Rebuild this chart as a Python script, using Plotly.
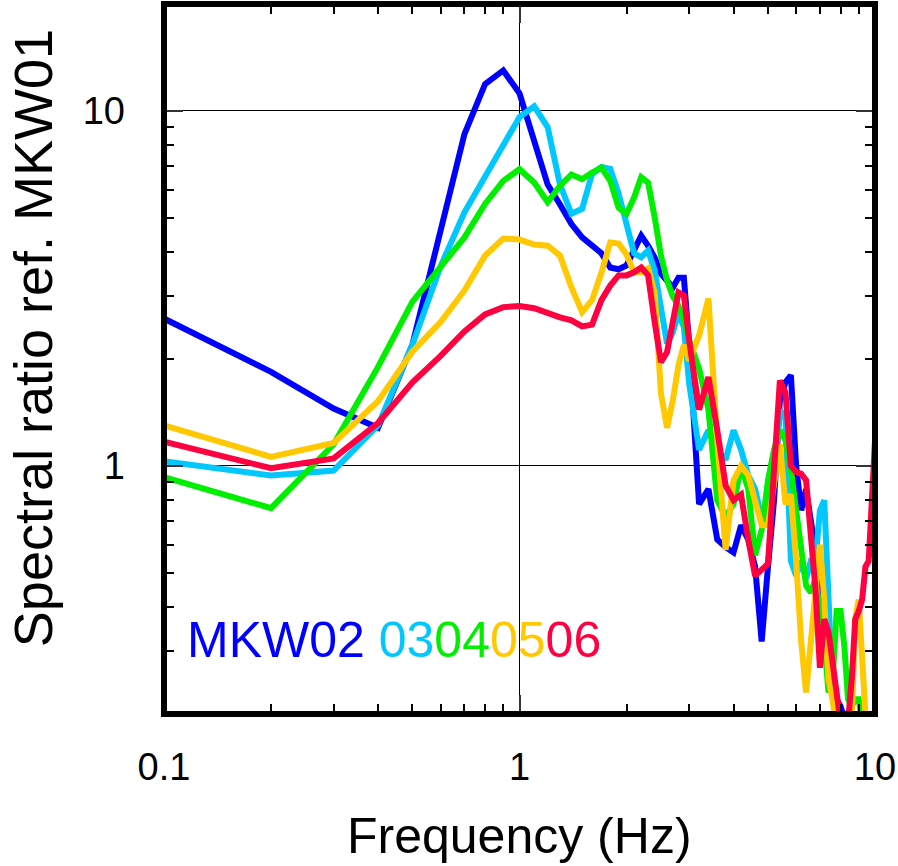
import plotly.graph_objects as go

freq = [0.1, 0.2, 0.3, 0.4, 0.5, 0.6, 0.7, 0.8, 0.9, 1.0,
        1.1, 1.2, 1.3, 1.4, 1.5, 1.6, 1.7, 1.8, 1.9, 2.0,
        2.1, 2.2, 2.3, 2.4, 2.5, 2.6, 2.7, 2.8, 2.9, 3.0,
        3.2, 3.4, 3.6, 3.8, 4.0, 4.2, 4.4, 4.6, 4.8, 5.0,
        5.2, 5.4, 5.6, 5.8, 6.0, 6.2, 6.4, 6.6, 6.8, 7.0,
        7.2, 7.4, 7.6, 7.8, 8.0, 8.2, 8.4, 8.6, 8.8, 9.0,
        9.2, 9.4, 9.6, 9.8, 10.0]

mkw02 = [2.6, 1.84, 1.45, 1.28, 2.2, 4.7, 8.6, 11.9, 13.0, 11.2,
         8.1, 6.2, 5.45, 4.8, 4.4, 4.17, 3.97, 3.62, 3.58, 3.67,
         4.04, 4.45, 4.17, 3.86, 3.48, 3.33, 3.18, 3.39, 3.39, 2.2,
         0.78, 0.86, 0.62, 0.59, 0.57, 0.68, 0.62, 0.52, 0.32, 0.52,
         0.80, 1.53, 1.72, 1.8, 1.0, 0.75, 0.86, 0.7, 0.58, 0.47,
         0.4, 0.3, 0.25, 0.22, 0.21, 0.19, 0.18, 0.19, 0.18, 0.17,
         0.18, 0.19, 0.18, 0.17, 0.18]

mkw03 = [1.03, 0.94, 0.97, 1.3, 2.2, 3.65, 5.18, 6.5, 7.9, 9.6,
         10.3, 9.0, 6.2, 5.13, 5.3, 6.64, 6.95, 6.87, 5.85, 4.75,
         3.97, 3.87, 4.04, 3.55, 2.8, 2.21, 2.38, 2.69, 2.46, 1.71,
         1.11, 1.26, 1.11, 1.04, 1.26, 1.11, 0.94, 0.86, 0.71, 0.71,
         0.97, 1.44, 1.35, 0.54, 0.49, 0.54, 0.48, 0.54, 0.54, 0.75,
         0.80, 0.42, 0.23, 0.19, 0.18, 0.18, 0.17, 0.18, 0.18, 0.17,
         0.18, 0.18, 0.17, 0.18, 0.18]

mkw04 = [0.93, 0.76, 1.15, 1.9, 2.9, 3.63, 4.4, 5.47, 6.35, 6.85,
         6.28, 5.53, 6.15, 6.62, 6.42, 6.7, 6.92, 6.35, 5.34, 5.13,
         5.7, 6.5, 6.28, 5.02, 3.91, 3.33, 3.0, 2.83, 2.57, 2.26,
         1.88, 1.44, 0.8, 0.72, 0.78, 1.0, 0.86, 0.56, 0.66, 0.91,
         1.11, 1.26, 1.18, 0.97, 0.75, 0.60, 0.46, 0.44, 0.48, 0.39,
         0.32, 0.23, 0.25, 0.39, 0.39, 0.31, 0.22, 0.21, 0.22, 0.22,
         0.19, 0.18, 0.18, 0.18, 0.18]

mkw05 = [1.3, 1.06, 1.16, 1.52, 2.1, 2.54, 3.12, 3.91, 4.37, 4.34,
         4.2, 4.17, 3.91, 3.18, 2.71, 2.93, 3.5, 4.26, 4.23, 3.94,
         3.51, 3.51, 3.6, 3.08, 1.6, 1.28, 1.53, 1.92, 2.19, 1.98,
         2.33, 2.96, 1.18, 0.58, 0.91, 1.0, 0.94, 0.80, 0.68, 0.68,
         0.91, 1.15, 0.78, 0.83, 0.54, 0.32, 0.23, 0.32, 0.45, 0.60,
         0.42, 0.25, 0.22, 0.18, 0.18, 0.18, 0.18, 0.19, 0.37, 0.42,
         0.30, 0.20, 0.18, 0.18, 0.18]

mkw06 = [1.17, 0.985, 1.05, 1.32, 1.72, 2.04, 2.39, 2.67, 2.8, 2.82,
         2.78, 2.69, 2.62, 2.57, 2.47, 2.5, 2.93, 3.22, 3.44, 3.44,
         3.51, 3.62, 3.44, 2.54, 1.96, 2.09, 2.57, 3.08, 3.02, 2.26,
         1.44, 1.78, 1.26, 0.88, 0.80, 0.83, 0.62, 0.49, 0.51, 0.53,
         0.97, 1.74, 1.61, 1.0, 0.96, 0.95, 0.91, 0.66, 0.45, 0.27,
         0.37, 0.34, 0.28, 0.23, 0.19, 0.19, 0.19, 0.25, 0.37, 0.39,
         0.42, 0.52, 0.54, 0.8, 1.18]

station_labels = ["MKW02", "03", "04", "05", "06"]
station_colors = ["#0000ff", "#00c8ff", "#00ee00", "#ffc800", "#ff0040"]
series = [mkw02, mkw03, mkw04, mkw05, mkw06]

x_tickvals = [0.1, 1, 10]
x_ticktext = ["0.1", "1", "10"]
x_minor = [0.2, 0.3, 0.4, 0.5, 0.6, 0.7, 0.8, 0.9, 2, 3, 4, 5, 6, 7, 8, 9]
y_tickvals = [1, 10]
y_ticktext = ["1", "10"]
y_minor = [0.2, 0.3, 0.4, 0.5, 0.6, 0.7, 0.8, 0.9, 2, 3, 4, 5, 6, 7, 8, 9, 20]

FONT = "Liberation Sans, Arial, Helvetica, sans-serif"

fig = go.Figure()
for name, col, vals in zip(station_labels, station_colors, series):
    fig.add_trace(go.Scatter(x=freq, y=vals, mode="lines", name=name,
                             line=dict(color=col, width=6),
                             showlegend=False, hoverinfo="skip"))

axis_common = dict(
    type="log",
    automargin=False,
    showline=False,
    mirror="allticks",
    ticks="inside",
    ticklen=19,
    tickwidth=2,
    tickcolor="#333333",
    showgrid=True,
    gridcolor="#000000",
    gridwidth=1,
    zeroline=False,
    tickfont=dict(family=FONT, size=38, color="black"),
)

fig.update_xaxes(
    **axis_common,
    range=[-1, 1],
    tickmode="array", tickvals=x_tickvals, ticktext=x_ticktext,
    ticklabelstandoff=27,
    minor=dict(tickmode="array", tickvals=x_minor, ticks="inside",
               ticklen=10, tickwidth=2, tickcolor="black", showgrid=False),
)
fig.update_yaxes(
    **axis_common,
    range=[-0.69897, 1.30103],
    tickmode="array", tickvals=y_tickvals, ticktext=y_ticktext,
    ticklabelstandoff=38,
    minor=dict(tickmode="array", tickvals=y_minor, ticks="inside",
               ticklen=10, tickwidth=2, tickcolor="black", showgrid=False),
)

legend_text = (
    "<span style='color:%s'>%s</span> " % (station_colors[0], station_labels[0])
    + "".join("<span style='color:%s'>%s</span>" % (c, l)
              for c, l in zip(station_colors[1:], station_labels[1:]))
)

fig.update_layout(
    width=898, height=866,
    margin=dict(l=164, r=23, t=4, b=152, autoexpand=False),
    paper_bgcolor="white", plot_bgcolor="white",
    font=dict(family=FONT, color="black"),
    shapes=[dict(type="rect", xref="paper", yref="paper", x0=0, x1=1, y0=0, y1=1,
                 line=dict(color="black", width=6), layer="above")],
    annotations=[
        dict(text=legend_text, xref="paper", yref="paper", x=0.029, y=0.104,
             xanchor="left", yanchor="middle", showarrow=False,
             font=dict(family=FONT, size=50)),
        dict(text="Frequency (Hz)", xref="paper", yref="paper", x=0.5, y=-0.172,
             xanchor="center", yanchor="middle", showarrow=False,
             font=dict(family=FONT, size=50, color="black")),
        dict(text="Spectral ratio ref. MKW01", xref="paper", yref="paper",
             x=-0.184, y=0.5296, xanchor="center", yanchor="middle",
             textangle=-90, showarrow=False,
             font=dict(family=FONT, size=54, color="black")),
    ],
)

fig.write_html("out.html",
               config={"displayModeBar": False, "staticPlot": True},
               post_script="document.body.style.margin='0';document.body.style.padding='0';")
